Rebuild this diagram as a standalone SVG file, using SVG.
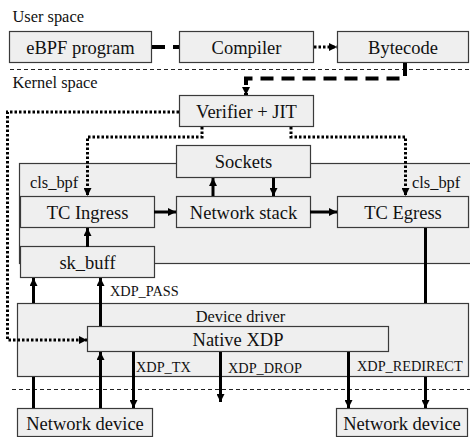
<svg xmlns="http://www.w3.org/2000/svg" width="470" height="437" viewBox="0 0 470 437">
  <style>
    text { font-family: "Liberation Serif", "Times New Roman", serif; fill: #111; }
    .box { fill: #efefef; stroke: #3a3a3a; stroke-width: 1.2; }
    .lbl { font-size: 18.5px; text-anchor: middle; }
    .area { font-size: 16.4px; }
    .small { font-size: 14.3px; }
    .sep { stroke: #222; stroke-width: 1; stroke-dasharray: 4 3; fill: none; }
    .solid { stroke: #000; stroke-width: 3; fill: none; }
    .dashed { stroke: #000; stroke-width: 4; stroke-dasharray: 13 8; fill: none; }
    .dotted { stroke: #000; stroke-width: 3; stroke-dasharray: 2.5 2; fill: none; }
  </style>
  <defs>
    <marker id="arrow" viewBox="0 0 8 8" refX="8" refY="4" markerWidth="8" markerHeight="8" markerUnits="userSpaceOnUse" orient="auto">
      <path d="M0,0 L8,4 L0,8 Z" fill="#000"/>
    </marker>
  </defs>

  <!-- region labels and separators -->
  <text class="area" x="12.5" y="22">User space</text>
  <line class="sep" x1="10" y1="69.5" x2="470" y2="69.5"/>
  <text class="area" x="12.5" y="88">Kernel space</text>
  <line class="sep" x1="12" y1="389.5" x2="470" y2="389.5"/>

  <!-- kernel stack container -->
  <g id="kernel-stack">
    <rect class="box" x="19.5" y="163.5" width="460" height="100"/>
  </g>

  <g id="ebpf-program">
    <rect class="box" x="9.5" y="31.5" width="142" height="31"/>
    <text class="lbl" x="80.5" y="54">eBPF program</text>
  </g>
  <g id="compiler">
    <rect class="box" x="179.5" y="31.5" width="134" height="31"/>
    <text class="lbl" x="246.5" y="54">Compiler</text>
  </g>
  <g id="bytecode">
    <rect class="box" x="337.5" y="31.5" width="131" height="31"/>
    <text class="lbl" x="403" y="54">Bytecode</text>
  </g>
  <g id="verifier-jit">
    <rect class="box" x="179.5" y="95.5" width="134" height="31"/>
    <text class="lbl" x="246.5" y="118">Verifier + JIT</text>
  </g>
  <g id="sockets">
    <rect class="box" x="176.5" y="145.5" width="134" height="32"/>
    <text class="lbl" x="243.5" y="168">Sockets</text>
  </g>
  <g id="tc-ingress">
    <rect class="box" x="20.5" y="196.5" width="134" height="31"/>
    <text class="lbl" x="87.5" y="218.5">TC Ingress</text>
  </g>
  <g id="network-stack">
    <rect class="box" x="176.5" y="196.5" width="134" height="31"/>
    <text class="lbl" x="243.5" y="218.5">Network stack</text>
  </g>
  <g id="tc-egress">
    <rect class="box" x="337.5" y="196.5" width="131" height="31"/>
    <text class="lbl" x="403" y="218.5">TC Egress</text>
  </g>
  <text class="area" x="30" y="188">cls_bpf</text>
  <text class="area" x="412" y="188">cls_bpf</text>
  <g id="sk-buff">
    <rect class="box" x="20.5" y="246.5" width="134" height="31"/>
    <text class="lbl" x="87.5" y="269">sk_buff</text>
  </g>
  <g id="device-driver">
    <rect class="box" x="17.5" y="303.5" width="451" height="73"/>
    <text class="area" x="240.5" y="322" text-anchor="middle">Device driver</text>
  </g>
  <g id="native-xdp">
    <rect class="box" x="87.5" y="326.5" width="301" height="25"/>
    <text class="lbl" x="238" y="345.5">Native XDP</text>
  </g>
  <g id="network-device-in">
    <rect class="box" x="17.5" y="408.5" width="135" height="28"/>
    <text class="lbl" x="85" y="430">Network device</text>
  </g>
  <g id="network-device-out">
    <rect class="box" x="336.5" y="408.5" width="131" height="28"/>
    <text class="lbl" x="402" y="430">Network device</text>
  </g>

  <g id="connectors">
    <!-- user space toolchain -->
    <line class="dashed" x1="152" y1="47" x2="179" y2="47"/>
    <line class="dotted" x1="314" y1="47" x2="337" y2="47" stroke-dasharray="2.5 9" marker-end="url(#arrow)"/>
    <path class="dashed" d="M405,63 V78.5 H246 V95" marker-end="url(#arrow)"/>

    <!-- program attachment from verifier -->
    <path class="dotted" d="M179,112 H7.5 V340 H87" marker-end="url(#arrow)"/>
    <path class="dotted" d="M202,127 V137 H87.5 V196" marker-end="url(#arrow)"/>
    <path class="dotted" d="M291,127 V137 H405.5 V196" marker-end="url(#arrow)"/>

    <!-- kernel stack -->
    <line class="solid" x1="154" y1="212" x2="176" y2="212" marker-end="url(#arrow)"/>
    <line class="solid" x1="310" y1="212" x2="337" y2="212" marker-end="url(#arrow)"/>
    <line class="solid" x1="213" y1="196" x2="213" y2="178" marker-end="url(#arrow)"/>
    <line class="solid" x1="273.5" y1="178" x2="273.5" y2="196" marker-end="url(#arrow)"/>
    <line class="solid" x1="87.5" y1="247" x2="87.5" y2="228" marker-end="url(#arrow)"/>

    <!-- receive path -->
    <line class="solid" x1="33.5" y1="408" x2="33.5" y2="377"/>
    <line class="solid" x1="33.5" y1="303" x2="33.5" y2="278" marker-end="url(#arrow)"/>
    <line class="solid" x1="100.5" y1="408" x2="100.5" y2="352" marker-end="url(#arrow)"/>
    <line class="solid" x1="100.5" y1="326" x2="100.5" y2="278" marker-end="url(#arrow)"/>
    <text class="small" x="110" y="296">XDP_PASS</text>

    <!-- XDP actions -->
    <line class="solid" x1="133.5" y1="352" x2="133.5" y2="408" marker-end="url(#arrow)"/>
    <text class="small" x="136" y="372">XDP_TX</text>
    <line class="solid" x1="220.5" y1="352" x2="220.5" y2="402" marker-end="url(#arrow)"/>
    <text class="small" x="228" y="373">XDP_DROP</text>
    <line class="solid" x1="348.5" y1="352" x2="348.5" y2="408" marker-end="url(#arrow)"/>
    <text class="small" x="357" y="371">XDP_REDIRECT</text>

    <!-- transmit path -->
    <line class="solid" x1="425.5" y1="228" x2="425.5" y2="303"/>
    <line class="solid" x1="425.5" y1="377" x2="425.5" y2="408" marker-end="url(#arrow)"/>
  </g>
</svg>
